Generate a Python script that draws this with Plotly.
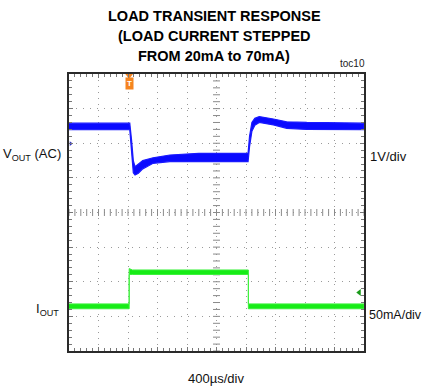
import numpy as np
import plotly.graph_objects as go

# ---- data (time in divisions of 400us, amplitude in divisions) ----
blue_t = [0, 2.06, 2.12, 2.18, 2.24, 2.35, 2.5, 2.85, 3.42, 4.4, 6.07, 6.12, 6.2, 6.3, 6.45, 6.93, 7.38, 8.06, 10]
blue_hi = [2.58, 2.58, 2.1, 1.5, 1.32, 1.40, 1.50, 1.58, 1.66, 1.71, 1.71, 2.2, 2.6, 2.72, 2.77, 2.70, 2.62, 2.60, 2.58]
blue_lo = [2.39, 2.39, 1.8, 1.15, 1.08, 1.13, 1.26, 1.42, 1.47, 1.47, 1.47, 1.9, 2.35, 2.52, 2.60, 2.53, 2.43, 2.40, 2.39]

green_t = [0, 2.04, 2.04, 2.15, 6.08, 6.08, 10]
green_hi = [-2.64, -2.64, -1.62, -1.66, -1.66, -2.64, -2.64]
green_lo = [-2.78, -2.78, -1.79, -1.79, -1.79, -2.78, -2.78]

trigger_t = 2.04
green_marker = (9.84, -2.31)
blue_marker = (0.06, 1.99)

title_lines = ["LOAD TRANSIENT RESPONSE", "(LOAD CURRENT STEPPED", "FROM 20mA to 70mA)"]

W, H = 422, 389
ML, MR, MT, MB = 69, 58, 74, 38
PW, PH = W - ML - MR, H - MT - MB


def pxx(p):
    return (p - ML) / PW


def pxy(p):
    return (H - MB - p) / PH


fig = go.Figure()

# graticule ticks on the centre cross
cx = np.arange(0, 10.001, 0.2)
cy = np.arange(-4, 4.001, 0.2)
fig.add_trace(go.Scatter(x=cx, y=np.zeros_like(cx), mode="markers",
                         marker=dict(symbol="line-ns", size=5, line=dict(width=1, color="#8a8a8a")),
                         hoverinfo="skip", showlegend=False))
fig.add_trace(go.Scatter(x=np.full_like(cy, 5.0), y=cy, mode="markers",
                         marker=dict(symbol="line-ew", size=5, line=dict(width=1, color="#8a8a8a")),
                         hoverinfo="skip", showlegend=False))

# blue trace (VOUT) envelope
fig.add_trace(go.Scatter(x=blue_t + blue_t[::-1], y=blue_hi + blue_lo[::-1],
                         fill="toself", fillcolor="#0a0aff", mode="lines",
                         line=dict(color="#1a1aff", width=1.2), hoverinfo="skip", showlegend=False))
# green trace (IOUT) envelope
fig.add_trace(go.Scatter(x=green_t + green_t[::-1], y=green_hi + green_lo[::-1],
                         fill="toself", fillcolor="#16ec16", mode="lines",
                         line=dict(color="#3cf03c", width=1), hoverinfo="skip", showlegend=False))

# markers
fig.add_trace(go.Scatter(x=[trigger_t], y=[3.96], mode="markers",
                         marker=dict(symbol="triangle-down", size=7, color="#f5841f"),
                         cliponaxis=False, hoverinfo="skip", showlegend=False))
fig.add_trace(go.Scatter(x=[green_marker[0]], y=[green_marker[1]], mode="markers",
                         marker=dict(symbol="triangle-left", size=6, color="#1a9a1a"),
                         hoverinfo="skip", showlegend=False))
fig.add_trace(go.Scatter(x=[blue_marker[0]], y=[blue_marker[1]], mode="markers",
                         marker=dict(symbol="triangle-right", size=4, color="#3030c0"),
                         cliponaxis=False, hoverinfo="skip", showlegend=False))

axis_common = dict(showline=True, linecolor="#2a2a2a", linewidth=2, mirror="allticks",
                   ticks="inside", ticklen=4, tickcolor="#777", tickwidth=1,
                   showticklabels=False, zeroline=False, showgrid=True,
                   gridcolor="#9a9a9a", gridwidth=1, fixedrange=True)

fig.update_xaxes(range=[0, 10], dtick=1, tick0=0, griddash="1px,5px",
                 minor=dict(dtick=0.2, ticks="inside", ticklen=3, tickcolor="#777", showgrid=False),
                 **axis_common)
fig.update_yaxes(range=[-4, 4], dtick=1, tick0=0, griddash="1px,6px",
                 minor=dict(dtick=0.2, ticks="inside", ticklen=3, tickcolor="#777", showgrid=False),
                 **axis_common)

font = "Liberation Sans, Arial, sans-serif"
ann = []
for i, line in enumerate(title_lines):
    ann.append(dict(text=f"<b>{line}</b>", x=pxx(214), y=pxy(16 + 20 * i), xref="paper", yref="paper",
                    xanchor="center", yanchor="middle", showarrow=False,
                    font=dict(family=font, size=14.5, color="#000")))
ann += [
    dict(text="toc10", x=pxx(352), y=pxy(63), font=dict(family=font, size=10, color="#222"),
         xanchor="center"),
    dict(text="V<sub>OUT</sub> (AC)", x=pxx(63), y=pxy(154), xanchor="right",
         font=dict(family=font, size=13, color="#111")),
    dict(text="I<sub>OUT</sub>", x=pxx(61), y=pxy(309), xanchor="right",
         font=dict(family=font, size=13, color="#111")),
    dict(text="1V/div", x=pxx(368), y=pxy(156), xanchor="left",
         font=dict(family=font, size=13, color="#111")),
    dict(text="50mA/div", x=pxx(367), y=pxy(315), xanchor="left",
         font=dict(family=font, size=12.5, color="#111")),
    dict(text="400µs/div", x=pxx(215.5), y=pxy(378), xanchor="center",
         font=dict(family=font, size=13, color="#111")),
]
for a in ann:
    a.setdefault("xref", "paper")
    a.setdefault("yref", "paper")
    a.setdefault("yanchor", "middle")
    a.setdefault("showarrow", False)

# trigger "T" flag
ann.append(dict(text="<b>T</b>", x=trigger_t, y=3.72, xref="x", yref="y", showarrow=False,
                font=dict(family=font, size=8, color="white"), bgcolor="#f5841f",
                borderpad=1, xanchor="center", yanchor="middle"))

fig.update_layout(width=W, height=H, margin=dict(l=ML, r=MR, t=MT, b=MB, pad=0),
                  paper_bgcolor="white", plot_bgcolor="white", annotations=ann,
                  showlegend=False)

fig.write_html("out.html")
